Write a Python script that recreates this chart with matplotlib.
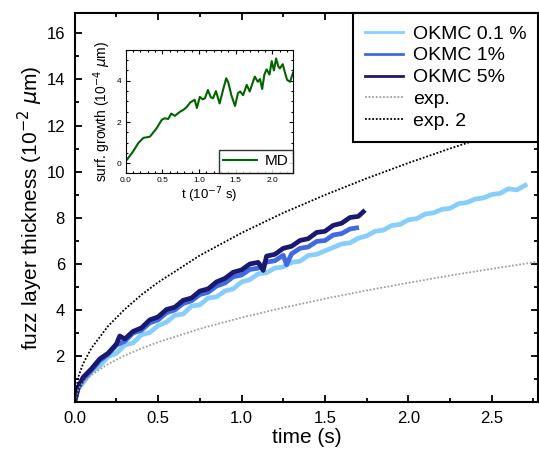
import matplotlib
matplotlib.use("Agg")
import matplotlib.pyplot as plt
from matplotlib.ticker import MultipleLocator

plt.rcParams['font.family'] = ['Liberation Sans', 'DejaVu Sans']
plt.rcParams['mathtext.fontset'] = 'dejavusans'

# OKMC 0.1 %
t_low = [0, 0.02, 0.05, 0.1, 0.15, 0.2, 0.25, 0.3, 0.35, 0.4, 0.45, 0.5, 0.55, 0.6, 0.65,
         0.7, 0.75, 0.8, 0.85, 0.9, 0.95, 1.0, 1.05, 1.1, 1.15, 1.2, 1.25, 1.3, 1.35, 1.4,
         1.45, 1.5, 1.55, 1.6, 1.65, 1.7, 1.75, 1.8, 1.85, 1.9, 1.95, 2.0, 2.05, 2.1, 2.15,
         2.2, 2.25, 2.3, 2.35, 2.4, 2.45, 2.5, 2.55, 2.6, 2.65, 2.7]
v_low = [0, 0.55, 0.82, 1.3, 1.55, 1.95, 2.1, 2.45, 2.55, 2.9, 3.0, 3.3, 3.45, 3.75, 3.8,
         4.15, 4.2, 4.5, 4.55, 4.8, 4.9, 5.2, 5.3, 5.55, 5.6, 5.8, 5.85, 6.05, 6.1, 6.35,
         6.4, 6.55, 6.7, 6.85, 6.9, 7.1, 7.2, 7.4, 7.45, 7.65, 7.7, 7.9, 7.95, 8.15, 8.2,
         8.35, 8.4, 8.6, 8.65, 8.8, 8.85, 9.0, 9.05, 9.25, 9.2, 9.4]

# OKMC 1%
t_mid = [0, 0.02, 0.05, 0.1, 0.15, 0.2, 0.25, 0.3, 0.35, 0.4, 0.45, 0.5, 0.55, 0.6, 0.65,
         0.7, 0.75, 0.8, 0.85, 0.9, 0.95, 1.0, 1.05, 1.1, 1.15, 1.2, 1.25, 1.27, 1.3, 1.35, 1.4,
         1.45, 1.5, 1.55, 1.6, 1.65, 1.69]
v_mid = [0, 0.55, 0.95, 1.35, 1.78, 2.05, 2.45, 2.62, 2.98, 3.1, 3.42, 3.55, 3.86, 3.98, 4.26,
         4.38, 4.65, 4.75, 5.02, 5.15, 5.42, 5.5, 5.74, 5.8, 6.06, 6.12, 6.36, 5.95, 6.42, 6.66, 6.72,
         6.96, 7.0, 7.24, 7.3, 7.5, 7.55]

# OKMC 5%
t_high = [0, 0.02, 0.05, 0.1, 0.15, 0.2, 0.25, 0.27, 0.3, 0.35, 0.4, 0.45, 0.5, 0.55, 0.6,
          0.65, 0.7, 0.75, 0.8, 0.85, 0.9, 0.95, 1.0, 1.05, 1.1, 1.13, 1.15, 1.2, 1.25, 1.3,
          1.35, 1.4, 1.45, 1.5, 1.55, 1.6, 1.65, 1.7, 1.73]
v_high = [0, 0.62, 1.05, 1.42, 1.85, 2.1, 2.5, 2.85, 2.72, 3.05, 3.2, 3.55, 3.68, 4.0, 4.1,
          4.4, 4.5, 4.8, 4.9, 5.2, 5.35, 5.62, 5.72, 5.98, 6.05, 5.7, 6.32, 6.4, 6.66, 6.75,
          7.0, 7.08, 7.35, 7.4, 7.66, 7.75, 8.0, 8.05, 8.25]

# exp. fits
t_exp = [0, 0.02, 0.05, 0.1, 0.2, 0.3, 0.4, 0.5, 0.75, 1.0, 1.25, 1.5, 1.75, 2.0, 2.25, 2.5, 2.78]
v_exp = [0, 0.52, 0.82, 1.15, 1.63, 2.0, 2.31, 2.58, 3.16, 3.65, 4.08, 4.47, 4.83, 5.16, 5.48, 5.77, 6.08]
v_exp2 = [0, 1.04, 1.64, 2.32, 3.28, 4.01, 4.64, 5.18, 6.35, 7.33, 8.2, 8.98, 9.7, 10.37, 11.0, 11.59, 12.22]

# inset: MD
t_md = [0.02, 0.1, 0.17, 0.24, 0.33, 0.42, 0.49, 0.53, 0.58, 0.62, 0.67, 0.74, 0.79, 0.83,
        0.88, 0.94, 0.97, 1.01, 1.05, 1.08, 1.12, 1.16, 1.19, 1.23, 1.28, 1.33, 1.37, 1.40,
        1.44, 1.49, 1.53, 1.56, 1.60, 1.65, 1.69, 1.73, 1.76, 1.80, 1.83, 1.86, 1.89, 1.92,
        1.96, 1.99, 2.02, 2.05, 2.08, 2.10, 2.14, 2.17, 2.20, 2.24, 2.28]
v_md = [0.19, 0.57, 0.97, 1.23, 1.29, 1.69, 2.1, 2.18, 2.15, 2.41, 2.3, 2.5, 2.6, 2.72,
        2.95, 3.08, 2.68, 3.22, 3.1, 3.15, 3.55, 3.2, 3.15, 3.5, 2.9, 3.6, 4.12, 3.9,
        3.3, 2.78, 3.4, 3.48, 3.3, 3.8, 3.48, 3.9, 4.2, 3.95, 4.08, 3.6, 4.3, 4.55,
        4.3, 4.95, 4.5, 5.08, 4.7, 4.6, 4.8, 4.4, 4.04, 3.95, 4.39]

fig = plt.figure(figsize=(5.39, 4.57), dpi=100)
ax = fig.add_axes([0.1386, 0.1214, 0.8604, 0.8496])

ax.plot(t_low, v_low, color='#87cefa', lw=3.4, label='OKMC 0.1 %')
ax.plot(t_mid, v_mid, color='#4169e1', lw=3.4, label='OKMC 1%')
ax.plot(t_high, v_high, color='#191970', lw=3.4, label='OKMC 5%')
ax.plot(t_exp, v_exp, color='#a0a0a0', lw=1.3, ls=(0, (1, 1)), label='exp.')
ax.plot(t_exp, v_exp2, color='black', lw=1.3, ls=(0, (1, 1)), label='exp. 2')

ax.set_xlim(0, 2.78)
ax.set_ylim(0, 16.88)
ax.xaxis.set_major_locator(MultipleLocator(0.5))
ax.xaxis.set_minor_locator(MultipleLocator(0.25))
ax.set_yticks([2, 4, 6, 8, 10, 12, 14, 16])
ax.yaxis.set_minor_locator(MultipleLocator(1))
ax.tick_params(which='both', direction='in', top=True, right=True, width=1.3, labelsize=12)
ax.tick_params(which='major', length=5, pad=7)
ax.tick_params(which='minor', length=3)
for s in ax.spines.values():
    s.set_linewidth(1.5)
ax.set_xlabel('time (s)', fontsize=15, labelpad=1)
ax.set_ylabel(r'fuzz layer thickness (10$^{-2}$ $\mu$m)', fontsize=15, labelpad=1)

leg = ax.legend(loc='upper right', fontsize=14, frameon=True, fancybox=False,
                borderaxespad=0, handlelength=2.0, labelspacing=0.22, borderpad=0.6,
                handletextpad=0.5)
leg.get_frame().set_edgecolor('black')
leg.get_frame().set_linewidth(1.5)
leg.get_frame().set_alpha(1)
for h in leg.get_lines()[:3]:
    h.set_linewidth(2.0)

# inset
ins = fig.add_axes([0.2332, 0.6214, 0.3104, 0.2692])
ins.plot(t_md, v_md, color='#006400', lw=1.5, label='MD')
ins.set_xlim(0, 2.28)
ins.set_ylim(-0.47, 5.49)
ins.xaxis.set_major_locator(MultipleLocator(0.5))
ins.xaxis.set_minor_locator(MultipleLocator(0.1))
ins.yaxis.set_major_locator(MultipleLocator(2))
ins.yaxis.set_minor_locator(MultipleLocator(0.5))
ins.tick_params(which='both', direction='in', top=True, right=True, labelsize=6, width=0.8, pad=3)
ins.tick_params(which='major', length=3)
ins.tick_params(which='minor', length=1.5)
ins.set_xlabel(r't (10$^{-7}$ s)', fontsize=9.5, labelpad=1)
ins.set_ylabel(r'surf. growth (10$^{-4}$ $\mu$m)', fontsize=10, labelpad=3)
ileg = ins.legend(loc='lower right', fontsize=11, frameon=True, fancybox=False,
                  borderaxespad=0, handlelength=2.2, borderpad=0.3, handletextpad=0.5)
ileg.get_frame().set_edgecolor('black')
ileg.get_frame().set_linewidth(1.0)

fig.savefig('out.png', dpi=100)
